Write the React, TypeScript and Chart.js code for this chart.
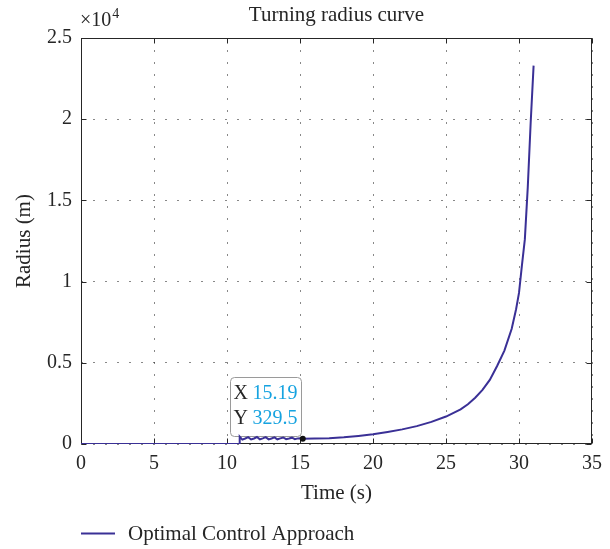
import React, { useEffect, useRef } from 'react';
import { Chart, registerables } from 'chart.js';

Chart.register(...registerables);

// ---- data ----
const time: number[] = [
  0, 10.86, 10.87, 11.05, 11.25, 11.45, 11.65, 11.85, 12.05, 12.25, 12.45, 12.65,
  12.85, 13.05, 13.25, 13.45, 13.65, 13.85, 14.05, 14.25, 14.45, 14.65, 14.85, 15.05,
  15.19, 16, 17, 18, 19, 20, 21, 22, 23, 24, 25, 26, 26.5, 27, 27.5, 28, 28.5, 29,
  29.5, 29.8, 30, 30.2, 30.4, 30.6, 30.8, 31.0,
];
const radius: number[] = [
  0, 0, 450, 270, 340, 420, 280, 340, 430, 285, 350, 420, 285, 340, 410, 290, 345,
  400, 295, 340, 390, 300, 345, 360, 329.5, 335, 360, 420, 500, 600, 740, 900, 1100,
  1360, 1690, 2130, 2450, 2850, 3330, 3950, 4800, 5750, 7100, 8300, 9300, 11000,
  12600, 15800, 19800, 23300,
];
const xTicks: number[] = [0, 5, 10, 15, 20, 25, 30, 35];
const yTicks: number[] = [0, 5000, 10000, 15000, 20000, 25000];
const yTickLabels: string[] = ['0', '0.5', '1', '1.5', '2', '2.5'];
const titleText = 'Turning radius curve';
const xLabel = 'Time (s)';
const yLabel = 'Radius (m)';
const seriesName = 'Optimal Control Approach';
const exponentBase = '×10';
const exponentPower = '4';
const tipX = 15.19;
const tipY = 329.5;
const tipXText = '15.19';
const tipYText = '329.5';

const FONT = '"Liberation Serif", "DejaVu Serif", serif';
const TEXT = '#262626';
const LINE = '#3a3096';
const TIPBLUE = '#16a3e0';

function tipBox(chart: any) {
  const { scales } = chart;
  const px = scales.x.getPixelForValue(tipX);
  const py = scales.y.getPixelForValue(tipY);
  const bx = Math.round(px - 73) + 0.5;
  const by = Math.round(py - 62) + 0.5;
  return { px, py, bx, by, bw: 71, bh: 59 };
}

const decor = {
  id: 'decor',
  beforeDatasetsDraw(chart: any) {
    const { ctx, chartArea: a, scales } = chart;
    const L = Math.round(a.left) + 0.5;
    const R = Math.round(a.right) - 0.5;
    const T = Math.round(a.top) + 0.5;
    const B = Math.round(a.bottom) - 0.5;
    ctx.save();
    // data tip box (line is drawn over it)
    const { bx, by, bw, bh } = tipBox(chart);
    ctx.beginPath();
    ctx.roundRect(bx, by, bw, bh, 4);
    ctx.fillStyle = '#ffffff';
    ctx.fill();
    ctx.strokeStyle = '#9a9a9a';
    ctx.lineWidth = 1;
    ctx.stroke();
    // axes box
    ctx.strokeStyle = '#262626';
    ctx.lineWidth = 1;
    ctx.setLineDash([]);
    ctx.strokeRect(L, T, R - L, B - T);
    const tl = 5;
    ctx.beginPath();
    xTicks.forEach((v) => {
      const x = Math.round(scales.x.getPixelForValue(v)) + 0.5;
      ctx.moveTo(x, B); ctx.lineTo(x, B - tl);
      ctx.moveTo(x, T); ctx.lineTo(x, T + tl);
    });
    yTicks.forEach((v) => {
      const y = Math.round(scales.y.getPixelForValue(v)) + 0.5;
      ctx.moveTo(L, y); ctx.lineTo(L + tl, y);
      ctx.moveTo(R, y); ctx.lineTo(R - tl, y);
    });
    ctx.stroke();
    ctx.restore();
  },
  afterDraw(chart: any) {
    const { ctx, chartArea: a } = chart;
    ctx.save();
    // title
    ctx.fillStyle = TEXT;
    ctx.font = `21px ${FONT}`;
    ctx.textAlign = 'center';
    ctx.textBaseline = 'middle';
    ctx.fillText(titleText, (a.left + a.right) / 2, 15);
    // exponent
    ctx.textAlign = 'left';
    ctx.font = `20px ${FONT}`;
    ctx.fillText(exponentBase, a.left - 1, 21);
    const w = ctx.measureText(exponentBase).width;
    ctx.font = `14px ${FONT}`;
    ctx.fillText(exponentPower, a.left - 1 + w + 1, 14);
    // legend
    ctx.strokeStyle = LINE;
    ctx.lineWidth = 2;
    ctx.beginPath();
    ctx.moveTo(81, 533.5);
    ctx.lineTo(115, 533.5);
    ctx.stroke();
    ctx.font = `21px ${FONT}`;
    ctx.fillStyle = TEXT;
    ctx.fillText(seriesName, 128, 534);
    // data tip text and marker
    const { px, py, bx } = tipBox(chart);
    ctx.font = `20px ${FONT}`;
    ctx.textBaseline = 'middle';
    ctx.fillStyle = TEXT;
    ctx.fillText('X', bx + 3, py - 45);
    ctx.fillText('Y', bx + 3, py - 20);
    ctx.fillStyle = TIPBLUE;
    ctx.fillText(tipXText, bx + 22, py - 45);
    ctx.fillText(tipYText, bx + 22, py - 20);
    ctx.fillStyle = '#111';
    ctx.beginPath();
    ctx.arc(px, py, 3, 0, Math.PI * 2);
    ctx.fill();
    ctx.restore();
  },
};

export default function App() {
  const ref = useRef<HTMLCanvasElement | null>(null);
  useEffect(() => {
    if (!ref.current) return;
    const chart = new Chart(ref.current, {
      type: 'line',
      data: {
        datasets: [
          {
            label: seriesName,
            data: time.map((t, i) => ({ x: t, y: radius[i] })),
            borderColor: LINE,
            borderWidth: 2,
            pointRadius: 0,
            tension: 0,
            fill: false,
          },
        ],
      },
      options: {
        animation: false,
        responsive: false,
        devicePixelRatio: 1,
        layout: { padding: { left: 0, right: 16, top: 38, bottom: 0 } },
        plugins: {
          legend: { display: false },
          title: { display: false },
          tooltip: { enabled: false },
        },
        scales: {
          x: {
            type: 'linear',
            min: 0,
            max: 35,
            afterBuildTicks: (s: any) => { s.ticks = xTicks.map((v) => ({ value: v })); },
            afterFit: (s: any) => { s.height = 105; },
            ticks: {
              color: TEXT,
              font: { family: FONT, size: 20 },
              padding: 8,
              maxRotation: 0,
              autoSkip: false,
            },
            grid: { color: 'rgba(38,38,38,0.55)', lineWidth: 1, drawTicks: false },
            border: { display: false, dash: [2, 10] },
            title: {
              display: true,
              text: xLabel,
              color: TEXT,
              font: { family: FONT, size: 21 },
              padding: { top: 0, bottom: 43 },
            },
          },
          y: {
            type: 'linear',
            min: 0,
            max: 25000,
            afterBuildTicks: (s: any) => { s.ticks = yTicks.map((v) => ({ value: v })); },
            afterFit: (s: any) => { s.width = 81; },
            ticks: {
              color: TEXT,
              font: { family: FONT, size: 20 },
              padding: 9,
              autoSkip: false,
              callback: (v: any) => yTickLabels[yTicks.indexOf(Number(v))] ?? '',
            },
            grid: { color: 'rgba(38,38,38,0.55)', lineWidth: 1, drawTicks: false },
            border: { display: false, dash: [2, 10] },
            title: {
              display: true,
              text: yLabel,
              color: TEXT,
              font: { family: FONT, size: 21 },
              padding: { top: 12, bottom: 0 },
            },
          },
        },
      },
      plugins: [decor],
    });
    return () => chart.destroy();
  }, []);
  return (
    <div style={{ position: 'absolute', left: 0, top: 0, width: 610, height: 549, background: '#fff' }}>
      <canvas ref={ref} width={610} height={549} />
    </div>
  );
}
